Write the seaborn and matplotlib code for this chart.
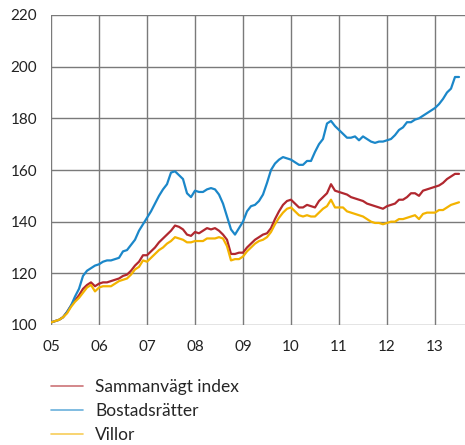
import matplotlib
matplotlib.use('Agg')
import matplotlib.pyplot as plt
from matplotlib.lines import Line2D
import numpy as np
import pandas as pd
import seaborn as sns

# monthly index values, Jan 2005 - Jul 2013
start_year = 2005
sammanvagt = [
    101, 101.5, 102, 103, 105, 107.5, 109.5, 111.5, 114, 115.5, 116.5, 115,
    116, 116.5, 116.5, 117, 117.5, 118, 119, 119.5, 121, 123, 124.5, 127,
    127, 128.5, 130, 132, 133.5, 135, 136.5, 138.5, 138, 137, 135, 134.5,
    136, 135.5, 136.5, 137.5, 137, 137.5, 136.5, 135, 133, 127.5, 127.5, 128,
    128, 130, 131.5, 133, 134, 135, 135.5, 137.5, 141, 144, 146.5, 148,
    148.5, 147, 145.5, 145.5, 146.5, 146, 145.5, 148, 149.5, 151, 154.5, 152,
    151.5, 151, 150.5, 149.5, 149, 148.5, 148, 147, 146.5, 146, 145.5, 145,
    146, 146.5, 147, 148.5, 148.5, 149.5, 151, 151, 150, 152, 152.5, 153,
    153.5, 154, 155, 156.5, 157.5, 158.5, 158.5,
]
bostadsratter = [
    101, 101.5, 102, 103, 105, 107.5, 111, 114, 119, 121, 122, 123,
    123.5, 124.5, 125, 125, 125.5, 126, 128.5, 129, 131, 133, 136.5, 139,
    141.5, 144, 147, 150, 152.5, 154.5, 159, 159.5, 158, 156.5, 151, 149.5,
    152, 151.5, 151.5, 152.5, 153, 152.5, 150.5, 147, 142, 137, 135, 137.5,
    140, 144, 146, 146.5, 148, 150.5, 155, 160, 162.5, 164, 165, 164.5,
    164, 163, 162, 162, 163.5, 163.5, 167, 170, 172, 178, 179, 177,
    175.5, 174, 172.5, 172.5, 173, 171.5, 173, 172, 171, 170.5, 171, 171,
    171.5, 172, 173.5, 175.5, 176.5, 178.5, 178.5, 179.5, 180, 181, 182, 183,
    184, 185.5, 187.5, 190, 191.5, 196, 196,
]
villor = [
    101, 101.5, 102, 103, 104.5, 107, 109, 110.5, 112.5, 114.5, 115.5, 113,
    114.5, 115, 115, 115, 116, 117, 117.5, 118, 119.5, 121.5, 122.5, 125,
    124.5, 126, 127.5, 129, 130, 131.5, 132.5, 134, 133.5, 133, 132, 132,
    132.5, 132.5, 132.5, 133.5, 133.5, 133.5, 134, 133.5, 130.5, 125, 125.5, 125.5,
    126.5, 128.5, 130, 131.5, 132.5, 133, 134, 136, 139, 141.5, 143.5, 145,
    145.5, 144, 142.5, 142, 142.5, 142, 142, 143.5, 145, 146, 148.5, 145.5,
    145.5, 145.5, 144, 143.5, 143, 142.5, 142, 141, 140, 139.5, 139.5, 139,
    139.5, 140, 140, 141, 141, 141.5, 142, 142.5, 141, 143, 143.5, 143.5,
    143.5, 144.5, 144.5, 145.5, 146.5, 147, 147.5,
]
series_names = ['Sammanvägt index', 'Bostadsrätter', 'Villor']
colors = ['#b1282f', '#1b87c9', '#f3b300']
year_ticks = list(range(2005, 2014))
year_labels = ['05', '06', '07', '08', '09', '10', '11', '12', '13']
y_ticks = [100, 120, 140, 160, 180, 200, 220]

t = start_year + np.arange(len(sammanvagt)) / 12
df = pd.concat([
    pd.DataFrame({'t': t, 'value': vals, 'serie': name})
    for name, vals in zip(series_names, [sammanvagt, bostadsratter, villor])
])

sns.set_style('white')
plt.rcParams['font.family'] = ['Lato', 'DejaVu Sans']

fig = plt.figure(figsize=(4.65, 4.45), dpi=100)
ax = fig.add_axes([51 / 465, 1 - 325 / 445, 1 - 51 / 465, 310 / 445])

sns.lineplot(data=df, x='t', y='value', hue='serie', palette=colors,
             hue_order=series_names, linewidth=1.6, legend=False, ax=ax,
             zorder=3)

ax.set_xlim(2005, 2005 + 414 / 48)
ax.set_ylim(100, 220)
ax.set_xticks(year_ticks)
ax.set_xticklabels(year_labels)
ax.set_yticks(y_ticks)
ax.grid(True, color='#7a7a7a', linewidth=1.0)
for s in ax.spines.values():
    s.set_visible(False)
ax.tick_params(axis='both', length=0, labelsize=11, colors='#222222')
ax.tick_params(axis='x', pad=11)
ax.tick_params(axis='y', pad=10)
ax.set_xlabel('')
ax.set_ylabel('')

handles = [Line2D([], [], color=c, linewidth=1.2, alpha=0.65) for c in colors]
fig.legend(handles, series_names, loc='upper left',
           bbox_to_anchor=(51 / 465, 1 - 379 / 445), frameon=False,
           fontsize=12.5, handlelength=1.85, handletextpad=0.7,
           labelspacing=0.45, borderpad=0, borderaxespad=0)

fig.savefig('out.png', dpi=100)
